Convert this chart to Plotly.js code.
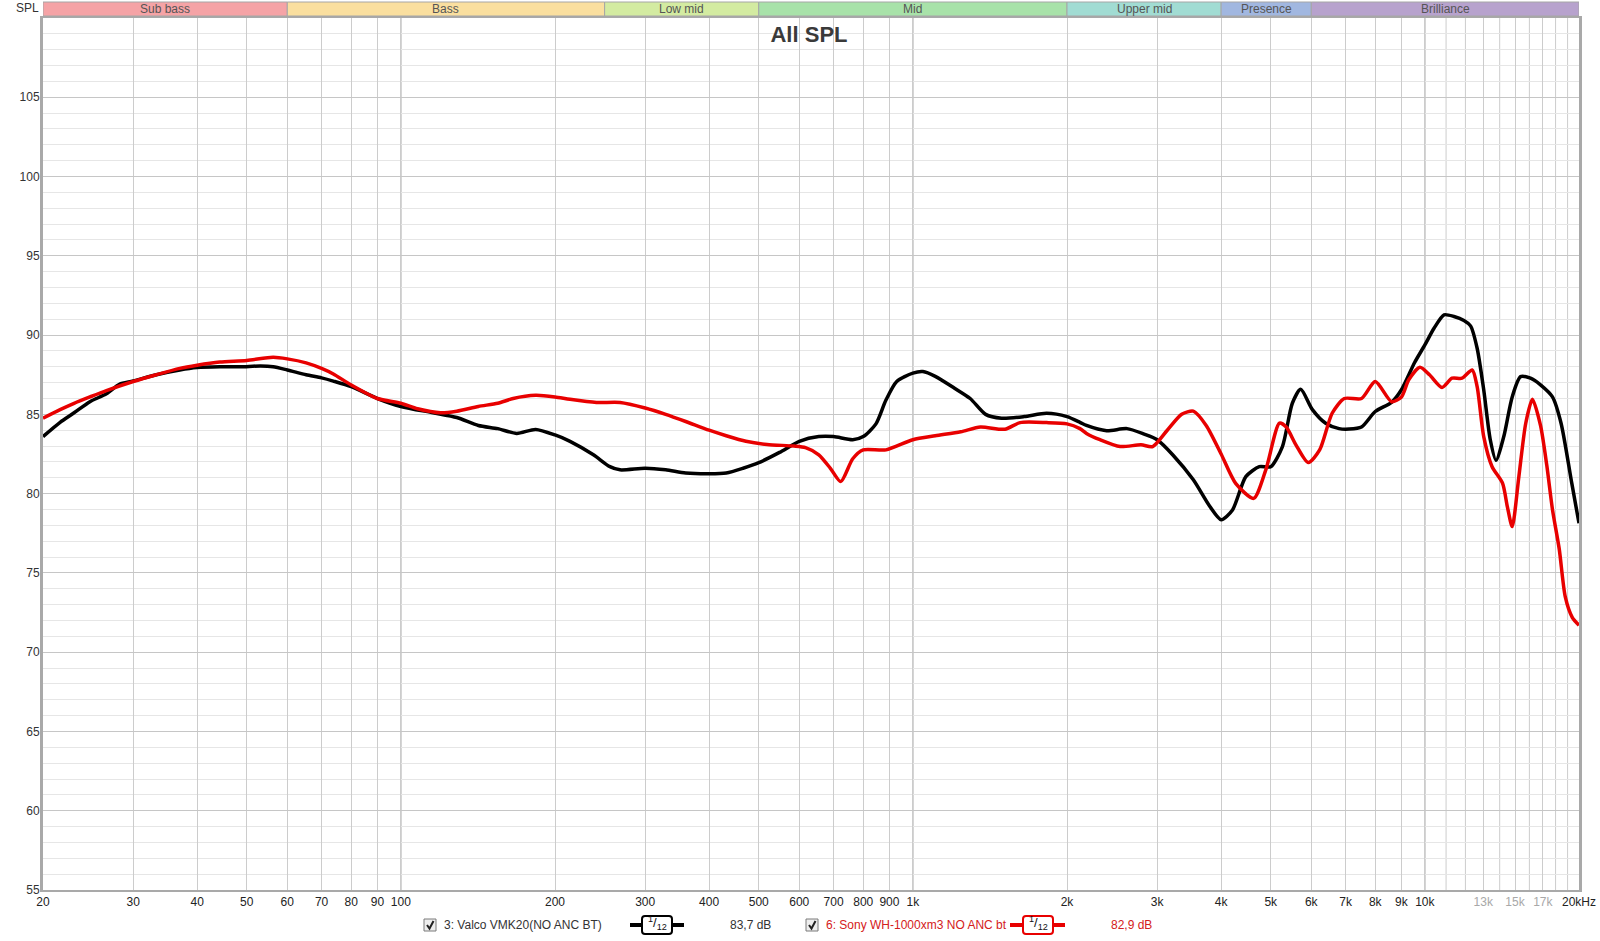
<!DOCTYPE html>
<html><head><meta charset="utf-8">
<script src="https://cdn.plot.ly/plotly-3.0.1.min.js"></script>
<style>html,body{margin:0;padding:0;background:#fff;}#chart{width:1600px;height:941px;}</style>
</head><body><div id="chart"></div>
<script>
// ---------- data ----------
const valcoFreq = [20,21.6,23,24.7,26.6,28.2,30,33.3,37,40,44.3,48.6,53.2,56.3,60,65.3,70,73.8,80,90,100,115.6,128.6,141.7,154.6,168.4,183.3,200,214,237.7,256,268,300,329,360,400,432,466,500,549,600,655,700,763,800,847,886,930,1000,1046,1106,1206,1294,1387,1490,1650,1825,2000,2120,2183,2390,2620,2830,3000,3220,3530,3800,4000,4210,4470,4750,5000,5270,5510,5720,6030,6400,6800,7110,7520,8000,8610,9000,9550,10000,10420,10900,11400,11920,12280,12650,13030,13420,13770,14260,14810,15380,16080,16820,17750,18450,19360,20000];
const valcoSpl  = [83.6,84.5,85.1,85.8,86.3,86.9,87.1,87.5,87.8,87.95,88.0,88.0,88.05,88.0,87.8,87.5,87.3,87.1,86.75,86.0,85.5,85.1,84.8,84.3,84.1,83.8,84.05,83.7,83.3,82.45,81.7,81.5,81.6,81.5,81.3,81.25,81.3,81.6,81.95,82.6,83.3,83.6,83.6,83.4,83.6,84.4,85.9,87.07,87.6,87.7,87.4,86.65,86.0,85.0,84.76,84.86,85.07,84.86,84.5,84.3,83.97,84.1,83.75,83.4,82.44,80.87,79.2,78.35,78.97,81.07,81.7,81.7,82.97,85.7,86.58,85.3,84.44,84.1,84.07,84.2,85.18,85.76,86.55,88.27,89.38,90.43,91.28,91.17,90.92,90.58,89.17,86.55,83.4,82.1,83.6,86.1,87.38,87.28,86.86,86.1,84.44,80.66,78.13];

const sonyFreq = [20,21.6,23,24.7,26.6,30,33.3,37,40,44.3,50,56.3,60,65.3,70,73.8,80,90,100,107.8,119.5,128.6,141.7,154.6,165.7,183.3,200,214,241,268,300,329,360,400,432,472,519,586,617,655,690,723,763,800,886,1000,1106,1240,1355,1512,1620,1825,2000,2120,2183,2320,2540,2790,2940,3140,3350,3530,3740,4000,4270,4630,4890,5200,5360,5600,5920,6230,6590,6960,7520,8000,8610,9000,9300,9780,10210,10800,11300,11820,12370,12650,13030,13530,14180,14490,14810,15260,15740,16220,16820,17300,17750,18300,18800,19400,20000];
const sonySpl  = [84.76,85.3,85.7,86.1,86.5,87.07,87.5,87.9,88.1,88.3,88.4,88.6,88.5,88.25,87.9,87.55,86.85,86.0,85.7,85.35,85.1,85.2,85.5,85.7,86.0,86.2,86.1,85.95,85.75,85.75,85.4,85.0,84.55,84.0,83.65,83.3,83.1,83.0,82.9,82.45,81.6,80.76,82.2,82.76,82.76,83.4,83.65,83.9,84.2,84.06,84.48,84.48,84.4,84.1,83.8,83.4,82.97,83.08,82.97,84.0,85.0,85.2,84.3,82.5,80.65,79.7,81.5,84.44,84.2,83.08,81.96,82.76,85.07,86.0,86.0,87.07,85.8,86.1,87.18,87.97,87.5,86.7,87.28,87.28,87.8,86.75,83.6,81.7,80.66,79.18,77.92,81.07,84.44,85.95,84.3,81.8,79.0,76.5,73.5,72.2,71.7];

const seriesNames = ['3: Valco VMK20(NO ANC BT)', '6: Sony WH-1000xm3 NO ANC bt'];
const seriesAvg = ['83,7 dB', '82,9 dB'];

const bandNames  = ['Sub bass','Bass','Low mid','Mid','Upper mid','Presence','Brilliance'];
const bandEdges  = [20,60,250,500,2000,4000,6000,20000];

const xTickVals = [20,30,40,50,60,70,80,90,100,200,300,400,500,600,700,800,900,1000,2000,3000,4000,5000,6000,7000,8000,9000,10000,13000,15000,17000,20000];
const xTickText = ['20','30','40','50','60','70','80','90','100','200','300','400','500','600','700','800','900','1k','2k','3k','4k','5k','6k','7k','8k','9k','10k','13k','15k','17k','20kHz'];
const xDimLabels = ['13k','15k','17k'];
const xExtraGrid = [11000,12000,14000,16000,18000,19000];
const xMajorLines = [100,1000,10000];
const yTickVals = [55,60,65,70,75,80,85,90,95,100,105];
const yRange = [55,110];
const titleText = 'All SPL';
const yUnit = 'SPL';

// ---------- styles ----------
const bandColors = ['#f5a3a6','#fadf9f','#d3eba1','#a8e2a9','#a1dcd3','#a1b7e0','#b7a2cd'];
const FONT = 'Liberation Sans, Arial, sans-serif';
const W = 1600, H = 941, L = 43, R = 1579, T = 18, B = 890;
function px(x){ return (x - L) / (R - L); }
function py(y){ return (B - y) / (B - T); }

const tickText = xTickText.map(t => xDimLabels.includes(t) ? '<span style="color:#a8a8a8">' + t + '</span>' : t);

const traces = [
  {x: valcoFreq, y: valcoSpl, type: 'scatter', mode: 'lines', name: seriesNames[0],
   line: {color: '#000000', width: 3.5, shape: 'spline', smoothing: 0.7}, hoverinfo: 'skip'},
  {x: sonyFreq, y: sonySpl, type: 'scatter', mode: 'lines', name: seriesNames[1],
   line: {color: '#e80000', width: 3.5, shape: 'spline', smoothing: 0.7}, hoverinfo: 'skip'}
];

const shapes = [];
const annotations = [];

// additional unlabeled grid lines above 10k
xExtraGrid.forEach(f => shapes.push({type: 'line', xref: 'x', yref: 'paper', x0: f, x1: f, y0: 0, y1: 1,
  line: {color: '#cccccc', width: 1}, layer: 'below'}));
// major decade lines
xMajorLines.forEach(f => shapes.push({type: 'line', xref: 'x', yref: 'paper', x0: f, x1: f, y0: 0, y1: 1,
  line: {color: '#8a8a8a', width: 1}, layer: 'below'}));

// frequency bands at top
for (let i = 0; i < bandNames.length; i++) {
  shapes.push({type: 'rect', xref: 'x', yref: 'paper', x0: bandEdges[i], x1: bandEdges[i+1],
    y0: py(16), y1: py(2), fillcolor: bandColors[i], line: {color: '#a6a6a6', width: 1}, layer: 'above'});
  const c = Math.sqrt(bandEdges[i] * bandEdges[i+1]);
  annotations.push({xref: 'x', yref: 'paper', x: Math.log10(c), y: py(9), text: bandNames[i], showarrow: false,
    xanchor: 'center', yanchor: 'middle', font: {family: FONT, size: 12, color: '#555555'}});
}

// unit label
annotations.push({xref: 'paper', yref: 'paper', x: px(27), y: py(8), text: yUnit, showarrow: false,
  xanchor: 'center', yanchor: 'middle', font: {family: FONT, size: 12, color: '#333333'}});

// custom legend
const legendY = 925;
const legendItems = [
  {box: 424, text: 442, iconL: 630, iconR: 684, boxL: 642, boxR: 672, avg: 728, color: '#000000', textColor: '#333333'},
  {box: 806, text: 824, iconL: 1010, iconR: 1065, boxL: 1023, boxR: 1053, avg: 1109, color: '#e80000', textColor: '#d42020'}
];
legendItems.forEach((it, i) => {
  shapes.push({type: 'rect', xref: 'paper', yref: 'paper', x0: px(it.box), x1: px(it.box + 12),
    y0: py(legendY + 6), y1: py(legendY - 6), fillcolor: '#eeeeee', line: {color: '#7a7a7a', width: 1}});
  shapes.push({type: 'path', xref: 'paper', yref: 'paper',
    path: 'M ' + px(it.box + 3) + ',' + py(legendY) + ' L ' + px(it.box + 5.5) + ',' + py(legendY + 3.5) +
          ' L ' + px(it.box + 9.5) + ',' + py(legendY - 4),
    line: {color: '#222222', width: 2}});
  annotations.push({xref: 'paper', yref: 'paper', x: px(it.text), y: py(legendY), text: seriesNames[i], showarrow: false,
    xanchor: 'left', yanchor: 'middle', font: {family: FONT, size: 12, color: it.textColor}});
  shapes.push({type: 'line', xref: 'paper', yref: 'paper', x0: px(it.iconL), x1: px(it.iconR), y0: py(legendY), y1: py(legendY),
    line: {color: it.color, width: 4}});
  // rounded box
  const x0 = px(it.boxL), x1 = px(it.boxR), y0 = py(legendY + 9), y1 = py(legendY - 9);
  const rx = 3 / (R - L), ry = 3 / (B - T);
  shapes.push({type: 'path', xref: 'paper', yref: 'paper',
    path: 'M ' + (x0 + rx) + ',' + y0 + ' L ' + (x1 - rx) + ',' + y0 + ' Q ' + x1 + ',' + y0 + ' ' + x1 + ',' + (y0 + ry) +
          ' L ' + x1 + ',' + (y1 - ry) + ' Q ' + x1 + ',' + y1 + ' ' + (x1 - rx) + ',' + y1 +
          ' L ' + (x0 + rx) + ',' + y1 + ' Q ' + x0 + ',' + y1 + ' ' + x0 + ',' + (y1 - ry) +
          ' L ' + x0 + ',' + (y0 + ry) + ' Q ' + x0 + ',' + y0 + ' ' + (x0 + rx) + ',' + y0 + ' Z',
    fillcolor: '#ffffff', line: {color: it.color, width: 2}});
  annotations.push({xref: 'paper', yref: 'paper', x: px((it.boxL + it.boxR) / 2), y: py(legendY - 2), text: '<sup>1</sup>/<sub>12</sub>',
    showarrow: false, xanchor: 'center', yanchor: 'middle', font: {family: FONT, size: 13, color: '#111111'}});
  annotations.push({xref: 'paper', yref: 'paper', x: px(it.avg), y: py(legendY), text: seriesAvg[i], showarrow: false,
    xanchor: 'left', yanchor: 'middle', font: {family: FONT, size: 12, color: it.textColor}});
});

const layout = {
  width: W, height: H,
  margin: {l: L, r: W - R, t: T, b: H - B, pad: 0},
  paper_bgcolor: '#ffffff', plot_bgcolor: '#ffffff',
  showlegend: false,
  hovermode: false,
  title: {text: '<b>' + titleText + '</b>', x: 809 / W, xanchor: 'center', y: 1 - 34 / H, yanchor: 'middle', yref: 'container',
          font: {family: FONT, size: 22, color: '#3a3a3a'}},
  xaxis: {type: 'log', range: [Math.log10(20), Math.log10(20000)], tickmode: 'array', tickvals: xTickVals, ticktext: tickText,
          showgrid: true, gridcolor: '#cccccc', gridwidth: 1, ticks: '', zeroline: false,
          showline: true, mirror: true, linecolor: '#a9a9a9', linewidth: 2,
          tickfont: {family: FONT, size: 12, color: '#222222'}, fixedrange: true},
  yaxis: {range: yRange, tickmode: 'array', tickvals: yTickVals, showgrid: true, gridcolor: '#c6c6c6', gridwidth: 1,
          minor: {tickmode: 'linear', tick0: 55, dtick: 1, showgrid: true, gridcolor: '#e6e6e6', gridwidth: 1, ticks: ''},
          ticks: '', zeroline: false, showline: true, mirror: true, linecolor: '#a9a9a9', linewidth: 3,
          tickfont: {family: FONT, size: 12, color: '#333333'}, ticklabelstandoff: -2, fixedrange: true},
  shapes: shapes,
  annotations: annotations,
  font: {family: FONT}
};

Plotly.newPlot('chart', traces, layout, {displayModeBar: false, staticPlot: true});
</script>
</body></html>
